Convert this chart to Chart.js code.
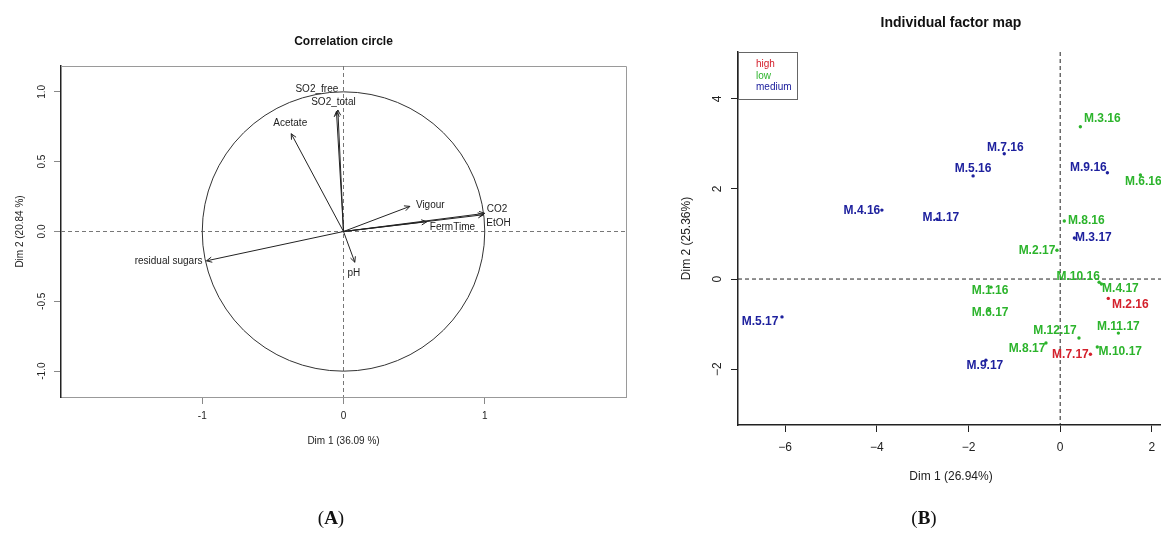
<!DOCTYPE html>
<html lang="en">
<head>
  <meta charset="UTF-8">
  <title>PCA - correlation circle and individual factor map</title>
  <script src="https://cdn.jsdelivr.net/npm/chart.js"></script>
  <style>
    body {
      margin: 0;
      background: #fff;
      font-family: "Liberation Sans", Arial, sans-serif;
    }
    #page {
      position: relative;
      width: 1161px;
      height: 534px;
      overflow: hidden;
    }
    #boxA { position: absolute; left: 0; top: 0; }
    #boxB { position: absolute; left: 660px; top: 0; }
    .tag {
      position: absolute;
      top: 507px;
      width: 80px;
      text-align: center;
      font-family: "Liberation Serif", "Times New Roman", serif;
      font-size: 19px;
      color: #111;
    }
  </style>
</head>
<body>
  <div id="page">
    <canvas id="boxA" width="660" height="534"></canvas>
    <canvas id="boxB" width="501" height="534"></canvas>
    <div class="tag" style="left:291px">(<b>A</b>)</div>
    <div class="tag" style="left:884px">(<b>B</b>)</div>
  </div>

  <script>
    // ---- panel A : variables on Dim 1 / Dim 2 ----
    const varNames = ['SO2_free', 'SO2_total', 'Acetate', 'Vigour', 'CO2', 'EtOH', 'FermTime', 'residual sugars', 'pH'];
    const varDim1 = [-0.04, -0.05, -0.37, 0.47, 1.00, 0.99, 0.59, -0.97, 0.08];
    const varDim2 = [0.87, 0.86, 0.70, 0.18, 0.13, 0.12, 0.07, -0.21, -0.22];
    const ticksAx = [-1, 0, 1];
    const tickLabelsAx = ['-1', '0', '1'];
    const ticksAy = [-1, -0.5, 0, 0.5, 1];
    const tickLabelsAy = ['-1.0', '-0.5', '0.0', '0.5', '1.0'];

    // ---- panel B : individuals ----
    const indNames = ['M.3.16', 'M.7.16', 'M.5.16', 'M.9.16', 'M.6.16', 'M.4.16', 'M.1.17', 'M.8.16', 'M.3.17', 'M.2.17',
                      'M.10.16', 'M.4.17', 'M.2.16', 'M.1.16', 'M.6.17', 'M.11.17', 'M.12.17', 'M.8.17', 'M.7.17', 'M.10.17',
                      'M.9.17', 'M.5.17'];
    const indDim1 = [0.44, -1.22, -1.90, 1.03, 1.75, -3.89, -2.69, 0.09, 0.31, -0.07,
                     0.85, 0.90, 1.05, -1.51, -1.55, 1.27, 0.41, -0.31, 0.66, 0.81,
                     -1.62, -6.07];
    const indDim2 = [3.38, 2.78, 2.29, 2.36, 2.31, 1.53, 1.33, 1.29, 0.91, 0.64,
                     -0.07, -0.11, -0.43, -0.18, -0.69, -1.20, -1.31, -1.42, -1.67, -1.51,
                     -1.80, -0.84];
    const indGroup = ['low', 'medium', 'medium', 'medium', 'low', 'medium', 'medium', 'low', 'medium', 'low',
                      'low', 'low', 'high', 'low', 'low', 'low', 'low', 'low', 'high', 'low',
                      'medium', 'medium'];
    const groupNames = ['high', 'low', 'medium'];
    const ticksBx = [-6, -4, -2, 0, 2];
    const tickLabelsBx = ['\u22126', '\u22124', '\u22122', '0', '2'];
    const ticksBy = [-2, 0, 2, 4];
    const tickLabelsBy = ['\u22122', '0', '2', '4'];

    const FONT = '"Liberation Sans", Arial, Helvetica, sans-serif';
    const groupColors = { high: '#d4202c', low: '#2cb42c', medium: '#1e219e' };
    const titleCenterB = 291; // the original plot runs past the right edge of the figure

    // label placement (pixel offset from the point, like autoLab does)
    const varLabelPos = {
      'SO2_free': [-21, -21, 'center'], 'SO2_total': [-3, -9, 'center'], 'Acetate': [-1, -10, 'center'],
      'Vigour': [6, -1, 'left'], 'CO2': [2, -4, 'left'], 'EtOH': [3, 9, 'left'],
      'FermTime': [3, 6, 'left'], 'residual sugars': [-4, 0, 'right'], 'pH': [-1, 11, 'center']
    };
    const indLabelPos = {
      'M.3.16': [22, -8], 'M.7.16': [1, -6], 'M.5.16': [0, -7], 'M.9.16': [-19, -5], 'M.6.16': [3, 7],
      'M.4.16': [-20, 1], 'M.1.17': [4, -1], 'M.8.16': [22, 0], 'M.3.17': [19, 0], 'M.2.17': [-20, 0],
      'M.10.16': [-21, -6], 'M.4.17': [19, 5], 'M.2.16': [22, 6], 'M.1.16': [-1, 4], 'M.6.17': [1, 3],
      'M.11.17': [0, -6], 'M.12.17': [-24, -7], 'M.8.17': [-19, 6], 'M.7.17': [-20, 0], 'M.10.17': [23, 5],
      'M.9.17': [-1, 6], 'M.5.17': [-22, 5]
    };

    function vText(ctx, s, x, y) {
      ctx.save();
      ctx.translate(x, y);
      ctx.rotate(-Math.PI / 2);
      ctx.textAlign = 'center';
      ctx.textBaseline = 'middle';
      ctx.fillText(s, 0, 0);
      ctx.restore();
    }

    function arrowHead(ctx, x0, y0, x1, y1, len) {
      const a = Math.atan2(y1 - y0, x1 - x0);
      ctx.beginPath();
      ctx.moveTo(x1 - len * Math.cos(a - Math.PI / 7), y1 - len * Math.sin(a - Math.PI / 7));
      ctx.lineTo(x1, y1);
      ctx.lineTo(x1 - len * Math.cos(a + Math.PI / 7), y1 - len * Math.sin(a + Math.PI / 7));
      ctx.stroke();
    }

    function fixedTicks(list) {
      return s => { s.ticks = list.map(v => ({ value: v })); };
    }

    // ================= panel A =================
    const panelA = {
      id: 'panelA',
      beforeDatasetsDraw(chart) {
        const { ctx, chartArea: ca, scales: { x, y } } = chart;
        const x0 = x.getPixelForValue(0), y0 = y.getPixelForValue(0);
        ctx.save();
        ctx.strokeStyle = '#9a9a9a';
        ctx.lineWidth = 1;
        ctx.beginPath();
        ctx.moveTo(ca.left, ca.top + 0.5);
        ctx.lineTo(ca.right + 0.5, ca.top + 0.5);
        ctx.lineTo(ca.right + 0.5, ca.bottom);
        ctx.stroke();
        ctx.setLineDash([4, 3]);
        ctx.strokeStyle = '#777';
        ctx.beginPath();
        ctx.moveTo(ca.left, y0); ctx.lineTo(ca.right, y0);
        ctx.moveTo(x0, ca.top); ctx.lineTo(x0, ca.bottom);
        ctx.stroke();
        ctx.setLineDash([]);
        ctx.strokeStyle = '#333';
        const rx = x.getPixelForValue(1) - x0, ry = y0 - y.getPixelForValue(1);
        ctx.beginPath();
        ctx.ellipse(x0, y0, rx, ry, 0, 0, Math.PI * 2);
        ctx.stroke();
        ctx.restore();
      },
      afterDatasetsDraw(chart) {
        const ctx = chart.ctx;
        ctx.save();
        ctx.strokeStyle = '#222';
        ctx.lineWidth = 1;
        ctx.fillStyle = '#222';
        ctx.font = '10px ' + FONT;
        ctx.textBaseline = 'middle';
        chart.data.datasets.forEach((ds, i) => {
          const pts = chart.getDatasetMeta(i).data;
          const p0 = pts[0], p1 = pts[1];
          arrowHead(ctx, p0.x, p0.y, p1.x, p1.y, 6);
          const lp = varLabelPos[ds.label];
          ctx.textAlign = lp[2];
          ctx.fillText(ds.label, p1.x + lp[0], p1.y + lp[1]);
        });
        ctx.restore();
      },
      afterDraw(chart) {
        const { ctx, chartArea: ca, scales: { x, y } } = chart;
        ctx.save();
        ctx.fillStyle = '#222';
        ctx.font = '10px ' + FONT;
        ctx.textAlign = 'center';
        ctx.textBaseline = 'middle';
        x.ticks.forEach((t, i) => ctx.fillText(tickLabelsAx[i], x.getPixelForValue(t.value), ca.bottom + 19));
        y.ticks.forEach((t, i) => vText(ctx, tickLabelsAy[i], ca.left - 19, y.getPixelForValue(t.value)));
        ctx.fillText('Dim 1 (36.09 %)', (ca.left + ca.right) / 2, ca.bottom + 44);
        vText(ctx, 'Dim 2 (20.84 %)', ca.left - 41, (ca.top + ca.bottom) / 2);
        ctx.font = 'bold 12px ' + FONT;
        ctx.fillStyle = '#111';
        ctx.fillText('Correlation circle', (ca.left + ca.right) / 2, 42);
        ctx.restore();
      }
    };

    new Chart(document.getElementById('boxA'), {
      type: 'scatter',
      data: {
        datasets: varNames.map((n, i) => ({
          label: n,
          data: [{ x: 0, y: 0 }, { x: varDim1[i], y: varDim2[i] }],
          showLine: true,
          borderColor: '#222',
          borderWidth: 1,
          pointRadius: 0
        }))
      },
      options: {
        responsive: false,
        animation: false,
        events: [],
        layout: { autoPadding: false, padding: { left: 0, right: 34, top: 66, bottom: 107 } },
        plugins: { legend: { display: false }, tooltip: { enabled: false } },
        scales: {
          x: {
            min: -2, max: 2,
            afterBuildTicks: fixedTicks(ticksAx),
            afterFit: s => { s.height = 30; },
            ticks: { display: false },
            grid: { drawOnChartArea: false, drawTicks: true, tickLength: 7, color: '#888' },
            border: { display: true, color: '#999', width: 1 }
          },
          y: {
            min: -1.185, max: 1.185,
            afterBuildTicks: fixedTicks(ticksAy),
            afterFit: s => { s.width = 61; },
            ticks: { display: false },
            grid: { drawOnChartArea: false, drawTicks: true, tickLength: 7, color: '#888' },
            border: { display: true, color: '#222', width: 1.5 }
          }
        }
      },
      plugins: [panelA]
    });

    // ================= panel B =================
    const panelB = {
      id: 'panelB',
      beforeDatasetsDraw(chart) {
        const { ctx, chartArea: ca, scales: { x, y } } = chart;
        const x0 = x.getPixelForValue(0), y0 = y.getPixelForValue(0);
        ctx.save();
        ctx.setLineDash([4, 3]);
        ctx.strokeStyle = '#222';
        ctx.lineWidth = 1;
        ctx.beginPath();
        ctx.moveTo(ca.left, y0); ctx.lineTo(ca.right, y0);
        ctx.moveTo(x0, ca.top); ctx.lineTo(x0, ca.bottom);
        ctx.stroke();
        ctx.restore();
      },
      afterDatasetsDraw(chart) {
        const ctx = chart.ctx;
        ctx.save();
        ctx.font = 'bold 12px ' + FONT;
        ctx.textAlign = 'center';
        ctx.textBaseline = 'middle';
        chart.data.datasets.forEach((ds, i) => {
          ctx.fillStyle = ds.backgroundColor;
          chart.getDatasetMeta(i).data.forEach((el, j) => {
            const name = ds.data[j].name;
            const lp = indLabelPos[name] || [0, -8];
            ctx.fillText(name, el.x + lp[0], el.y + lp[1]);
          });
        });
        ctx.restore();
      },
      afterDraw(chart) {
        const { ctx, chartArea: ca, scales: { x, y } } = chart;
        ctx.save();
        // legend box
        ctx.strokeStyle = '#666';
        ctx.lineWidth = 1;
        ctx.strokeRect(ca.left + 0.5, ca.top + 0.5, 59, 47);
        ctx.font = '10px ' + FONT;
        ctx.textAlign = 'left';
        ctx.textBaseline = 'middle';
        groupNames.forEach((g, i) => {
          ctx.fillStyle = groupColors[g];
          ctx.fillText(g, ca.left + 18, ca.top + 12.5 + i * 11.5);
        });
        // tick labels and titles
        ctx.fillStyle = '#222';
        ctx.font = '12px ' + FONT;
        ctx.textAlign = 'center';
        x.ticks.forEach((t, i) => ctx.fillText(tickLabelsBx[i], x.getPixelForValue(t.value), ca.bottom + 23));
        y.ticks.forEach((t, i) => vText(ctx, tickLabelsBy[i], ca.left - 20, y.getPixelForValue(t.value)));
        ctx.fillText('Dim 1 (26.94%)', titleCenterB, ca.bottom + 52);
        vText(ctx, 'Dim 2 (25.36%)', ca.left - 51, (ca.top + ca.bottom) / 2);
        ctx.font = 'bold 14px ' + FONT;
        ctx.fillStyle = '#111';
        ctx.fillText('Individual factor map', titleCenterB, 23);
        ctx.restore();
      }
    };

    new Chart(document.getElementById('boxB'), {
      type: 'scatter',
      data: {
        datasets: groupNames.map(g => ({
          label: g,
          data: indNames.map((n, i) => ({ x: indDim1[i], y: indDim2[i], name: n, g: indGroup[i] }))
                        .filter(p => p.g === g),
          backgroundColor: groupColors[g],
          borderWidth: 0,
          pointRadius: 1.7
        }))
      },
      options: {
        responsive: false,
        animation: false,
        events: [],
        layout: { autoPadding: false, padding: { left: 0, right: 0, top: 52, bottom: 79 } },
        plugins: { legend: { display: false }, tooltip: { enabled: false } },
        scales: {
          x: {
            min: -7.03, max: 2.2,
            afterBuildTicks: fixedTicks(ticksBx),
            afterFit: s => { s.height = 30; },
            ticks: { display: false },
            grid: { drawOnChartArea: false, drawTicks: true, tickLength: 7, color: '#222' },
            border: { display: true, color: '#222', width: 1.5 }
          },
          y: {
            min: -3.24, max: 5.04,
            afterBuildTicks: fixedTicks(ticksBy),
            afterFit: s => { s.width = 78; },
            ticks: { display: false },
            grid: { drawOnChartArea: false, drawTicks: true, tickLength: 7, color: '#222' },
            border: { display: true, color: '#222', width: 1.5 }
          }
        }
      },
      plugins: [panelB]
    });
  </script>
</body>
</html>
